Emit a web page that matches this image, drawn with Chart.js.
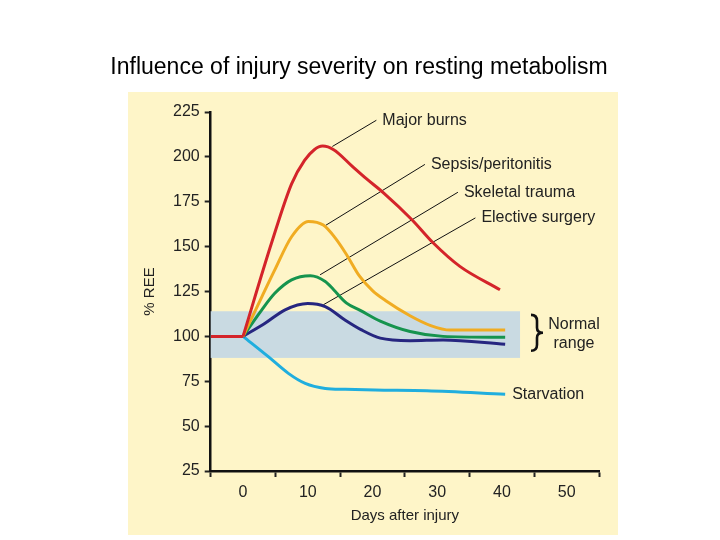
<!DOCTYPE html>
<html>
<head>
<meta charset="utf-8">
<script src="https://cdn.jsdelivr.net/npm/chart.js"></script>
<style>
  html, body { margin: 0; padding: 0; background: #fff; }
  #chart { display: block; }
</style>
</head>
<body>
<canvas id="chart" width="720" height="540"></canvas>
<script>
    // values: days after injury -> % of resting energy expenditure
    const baseDays    = [-5, 0];
    const baseREE     = [100, 100];
    const burnsDays   = [0, 4.4, 7.5, 9.5, 11, 12.3, 14, 16.8, 19, 21.7, 26.1, 29.4, 33.5, 39.7];
    const burnsREE    = [100, 152, 185, 198, 204, 206, 204, 195, 188, 180, 165, 152, 139, 126];
    const sepsisDays  = [0, 2.9, 4.9, 7.5, 10.1, 12.4, 14.2, 16, 18, 20, 22, 25.8, 29, 32, 40.5];
    const sepsisREE   = [100, 122, 137, 155.5, 164, 162, 155, 145.5, 133.5, 125.5, 120, 111.5, 106, 103.5, 103.5];
    const traumaDays  = [0, 2.9, 4.9, 7.5, 10.4, 12.7, 14, 16, 18.1, 21.2, 25.8, 30.9, 40.5];
    const traumaREE   = [100, 114.8, 124, 131.5, 133.8, 130.6, 126, 118.5, 114.5, 108.5, 102.7, 100, 99.5];
    const surgeryDays = [0, 3.4, 6.5, 10, 12.7, 15.8, 18.3, 21.2, 25.8, 30.9, 40.5];
    const surgeryREE  = [100, 107.3, 114.8, 118.3, 116.6, 109, 103.6, 99, 97.6, 98, 95.6];
    const starveDays  = [0, 3.9, 7, 9.6, 12.7, 15.8, 20.4, 28.4, 40.5];
    const starveREE   = [100, 88.7, 79.4, 73.8, 71, 70.5, 70.1, 69.7, 67.8];

    const yTicks = [25, 50, 75, 100, 125, 150, 175, 200, 225];
    const xLabels = [0, 10, 20, 30, 40, 50];

    const normalLow = 88, normalHigh = 114, normalEnd = 42.8;

    // leader lines: curve point -> label point (data coords)
    const calloutText = ['Major burns', 'Sepsis/peritonitis', 'Skeletal trauma', 'Elective surgery'];
    const calloutFrom = [[13.8, 205.8], [12.7, 161.7], [11.9, 134.3], [12.4, 117.6]];
    const calloutTo   = [[20.6, 220.4], [28.1, 195.8], [33.2, 180.3], [35.9, 166]];

    const FONT = '"Liberation Sans", Arial, Helvetica, sans-serif';
    Chart.defaults.font.family = FONT;
    Chart.defaults.color = '#222';

    function pts(days, vals) {
        return days.map((d, i) => ({ x: d, y: vals[i] }));
    }

    function line(label, days, vals, color) {
        return {
            label: label,
            data: pts(days, vals),
            borderColor: color,
            borderWidth: 3,
            pointRadius: 0,
            fill: false,
            cubicInterpolationMode: 'monotone'
        };
    }

    const decor = {
        id: 'decor',
        beforeDraw(chart) {
            const c = chart.ctx;
            c.save();
            c.fillStyle = '#fff';
            c.fillRect(0, 0, chart.width, chart.height);
            c.fillStyle = 'rgb(254, 245, 200)';
            c.fillRect(128, 92, 490, 443);
            // title
            c.fillStyle = '#000';
            c.font = '23px ' + FONT;
            c.textAlign = 'center';
            c.textBaseline = 'middle';
            c.fillText('Influence of injury severity on resting metabolism', 359, 68);
            c.restore();
        },
        beforeDatasetsDraw(chart) {
            const c = chart.ctx, xs = chart.scales.x, ys = chart.scales.y;
            c.save();
            // normal range band
            const bx0 = xs.getPixelForValue(-5), bx1 = xs.getPixelForValue(normalEnd);
            const by0 = ys.getPixelForValue(normalHigh), by1 = ys.getPixelForValue(normalLow);
            c.fillStyle = 'rgb(201, 218, 226)';
            c.fillRect(bx0, by0, bx1 - bx0, by1 - by0);
            // leader lines
            c.strokeStyle = '#111';
            c.lineWidth = 1;
            calloutFrom.forEach((p, i) => {
                const q = calloutTo[i];
                c.beginPath();
                c.moveTo(xs.getPixelForValue(p[0]), ys.getPixelForValue(p[1]));
                c.lineTo(xs.getPixelForValue(q[0]), ys.getPixelForValue(q[1]));
                c.stroke();
            });
            c.restore();
        },
        afterDatasetsDraw(chart) {
            const c = chart.ctx, xs = chart.scales.x, ys = chart.scales.y;
            c.save();
            c.fillStyle = '#222';
            c.font = '16px ' + FONT;
            c.textAlign = 'left';
            c.textBaseline = 'middle';
            calloutTo.forEach((q, i) => {
                c.fillText(calloutText[i], xs.getPixelForValue(q[0]) + 6, ys.getPixelForValue(q[1]));
            });
            // starvation label next to the end of its curve
            const sx = xs.getPixelForValue(starveDays[starveDays.length - 1]) + 7;
            const sy = ys.getPixelForValue(starveREE[starveREE.length - 1]);
            c.fillText('Starvation', sx, sy);

            // brace + "Normal range"
            const top = ys.getPixelForValue(112), bot = ys.getPixelForValue(92);
            const mid = (top + bot) / 2;
            const x0 = 531, xb = 537, xm = 543;
            c.strokeStyle = '#111';
            c.lineWidth = 2.6;
            c.beginPath();
            c.moveTo(x0, top);
            c.quadraticCurveTo(xb, top, xb, top + 6);
            c.lineTo(xb, mid - 5);
            c.quadraticCurveTo(xb, mid, xm, mid);
            c.quadraticCurveTo(xb, mid, xb, mid + 5);
            c.lineTo(xb, bot - 6);
            c.quadraticCurveTo(xb, bot, x0, bot);
            c.stroke();
            c.textAlign = 'center';
            c.fillText('Normal', 574, ys.getPixelForValue(106.4));
            c.fillText('range', 574, ys.getPixelForValue(96.2));
            c.restore();
        }
    };

    const ctx = document.getElementById('chart').getContext('2d');
    new Chart(ctx, {
        type: 'line',
        data: {
            datasets: [
                line('Major burns', burnsDays, burnsREE, 'rgb(212, 36, 42)'),
                line('Baseline', baseDays, baseREE, 'rgb(212, 36, 42)'),
                line('Sepsis/peritonitis', sepsisDays, sepsisREE, 'rgb(240, 172, 34)'),
                line('Skeletal trauma', traumaDays, traumaREE, 'rgb(22, 148, 78)'),
                line('Elective surgery', surgeryDays, surgeryREE, 'rgb(38, 38, 128)'),
                line('Starvation', starveDays, starveREE, 'rgb(32, 174, 222)')
            ]
        },
        options: {
            responsive: false,
            animation: false,
            layout: { padding: { left: 128, top: 112, right: 121, bottom: 5 } },
            plugins: {
                legend: { display: false },
                title: { display: false },
                tooltip: { enabled: false }
            },
            scales: {
                x: {
                    type: 'linear',
                    min: -5,
                    max: 55,
                    ticks: {
                        stepSize: 5,
                        autoSkip: false,
                        maxRotation: 0,
                        padding: 6,
                        font: { size: 16 },
                        color: '#222',
                        callback: v => (xLabels.includes(v) ? String(v) : '')
                    },
                    grid: {
                        drawOnChartArea: false,
                        tickLength: 6,
                        tickWidth: 2,
                        tickColor: c => (c.tick && xLabels.includes(c.tick.value) ? 'rgba(0,0,0,0)' : '#222')
                    },
                    border: { display: true, color: '#111', width: 2.5 },
                    title: {
                        display: true,
                        text: 'Days after injury',
                        font: { size: 15 },
                        color: '#222',
                        padding: { top: 0, bottom: 10 }
                    },
                    afterFit: s => { s.height = 64; }
                },
                y: {
                    type: 'linear',
                    min: 25,
                    max: 225,
                    afterBuildTicks: s => { s.ticks = yTicks.map(v => ({ value: v })); },
                    ticks: { padding: 5, font: { size: 16 }, color: '#222' },
                    grid: {
                        drawOnChartArea: false,
                        tickLength: 6,
                        tickWidth: 2,
                        tickColor: '#222'
                    },
                    border: { display: true, color: '#111', width: 2.5 },
                    title: {
                        display: true,
                        text: '% REE',
                        font: { size: 15 },
                        color: '#222',
                        padding: { top: 13, bottom: 0 }
                    },
                    afterFit: s => { s.width = 82.7; }
                }
            }
        },
        plugins: [decor]
    });
</script>
</body>
</html>
